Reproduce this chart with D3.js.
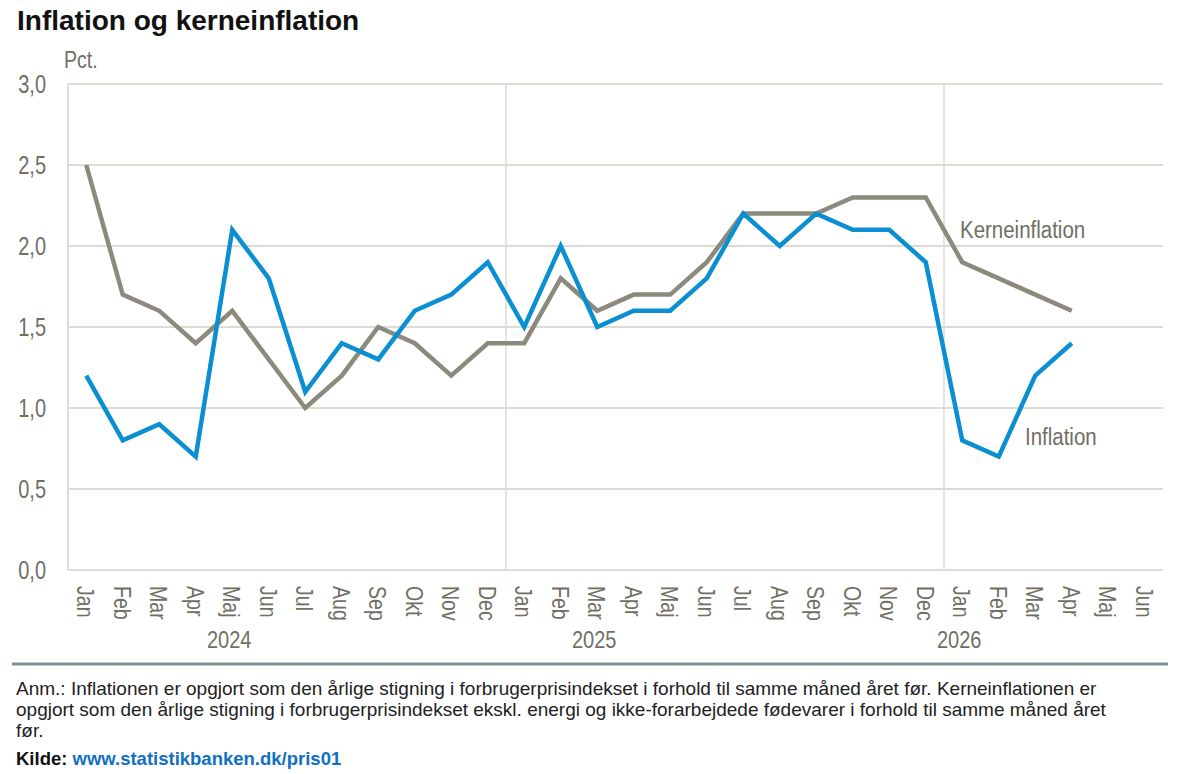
<!DOCTYPE html>
<html><head><meta charset="utf-8">
<script src="https://cdn.jsdelivr.net/npm/d3@7"></script>
<style>
html,body{margin:0;padding:0;background:#fff;}
svg{display:block;}
</style></head>
<body>
<svg id="c" width="1203" height="774"></svg>
<script>
const months = ["Jan","Feb","Mar","Apr","Maj","Jun","Jul","Aug","Sep","Okt","Nov","Dec",
                "Jan","Feb","Mar","Apr","Maj","Jun","Jul","Aug","Sep","Okt","Nov","Dec",
                "Jan","Feb","Mar","Apr","Maj","Jun"];
const years = ["2024","2025","2026"];
const yearLabelMonth = [4, 14, 24];
const yearStartMonth = [12, 24];
const inflation = [1.2,0.8,0.9,0.7,2.1,1.8,1.1,1.4,1.3,1.6,1.7,1.9,
                   1.5,2.0,1.5,1.6,1.6,1.8,2.2,2.0,2.2,2.1,2.1,1.9,
                   0.8,0.7,1.2,1.4];
const kerneinflation = [2.5,1.7,1.6,1.4,1.6,1.3,1.0,1.2,1.5,1.4,1.2,1.4,
                        1.4,1.8,1.6,1.7,1.7,1.9,2.2,2.2,2.2,2.3,2.3,2.3,
                        1.9,1.8,1.7,1.6];
const yTicks = [0,0.5,1,1.5,2,2.5,3];
const seriesNames = ["Inflation","Kerneinflation"];
const title = "Inflation og kerneinflation";
const unit = "Pct.";
const noteLines = [
 "Anm.: Inflationen er opgjort som den årlige stigning i forbrugerprisindekset i forhold til samme måned året før. Kerneinflationen er",
 "opgjort som den årlige stigning i forbrugerprisindekset ekskl. energi og ikke-forarbejdede fødevarer i forhold til samme måned året",
 "før."
];
const sourceLabel = "Kilde:";
const sourceLink = "www.statistikbanken.dk/pris01";

const svg = d3.select("#c");
const L = 68, R = 1163, T = 84, B = 570;
const x = d3.scaleBand().domain(d3.range(months.length)).range([L, R]).padding(0);
const y = d3.scaleLinear().domain([0, 3]).range([B, T]);
const cx = i => x(i) + x.bandwidth() / 2;

const FONT = "'Liberation Sans', Arial, sans-serif";
const tickCol = "#6f6f64";
const gridCol = "#dcdcd3";

// title
svg.append("text").attr("x", 17).attr("y", 30).text(title)
  .attr("font-family", FONT).attr("font-weight", "bold").attr("font-size", 28).attr("fill", "#111");

// gridlines
svg.append("g").selectAll("line").data(yTicks).join("line")
  .attr("x1", L).attr("x2", R).attr("y1", d => y(d)).attr("y2", d => y(d))
  .attr("stroke", gridCol).attr("stroke-width", 2);
// left axis line
svg.append("line").attr("x1", L).attr("x2", L).attr("y1", T).attr("y2", B)
  .attr("stroke", gridCol).attr("stroke-width", 2);
// year separators
svg.append("g").selectAll("line").data(yearStartMonth).join("line")
  .attr("x1", d => x(d)).attr("x2", d => x(d)).attr("y1", T).attr("y2", B)
  .attr("stroke", gridCol).attr("stroke-width", 1.5);

function ntext(g, xx, yy, s, size, anchor, sx) {
  return g.append("text").attr("transform", `translate(${xx},${yy}) scale(${sx},1)`)
    .attr("text-anchor", anchor).attr("font-family", FONT).attr("font-size", size)
    .attr("fill", tickCol).text(s);
}

// y tick labels
const yl = svg.append("g");
yTicks.forEach(t => ntext(yl, 46, y(t) + 9, d3.format(".1f")(t).replace(".", ","), 25, "end", 0.8));
ntext(svg, 64, 68, unit, 23, "start", 0.85);

// month labels rotated
const ml = svg.append("g");
months.forEach((m, i) => {
  ml.append("text")
    .attr("transform", `translate(${cx(i) - 9},${586}) rotate(90) scale(0.85,1)`)
    .attr("text-anchor", "start").attr("font-family", FONT).attr("font-size", 23)
    .attr("fill", tickCol).text(m);
});
// year labels
years.forEach((yr, k) => ntext(svg, cx(yearLabelMonth[k]) - 3, 648, yr, 23, "middle", 0.87));

// lines
const line = d3.line().x((d, i) => cx(i)).y(d => y(d));
svg.append("path").datum(kerneinflation).attr("d", line).attr("fill", "none")
  .attr("stroke", "#8c8a7c").attr("stroke-width", 4.5).attr("stroke-linejoin", "miter");
svg.append("path").datum(inflation).attr("d", line).attr("fill", "none")
  .attr("stroke", "#0a90d2").attr("stroke-width", 4.5).attr("stroke-linejoin", "miter");

// series labels
ntext(svg, 960, 238, seriesNames[1], 23, "start", 0.89);
ntext(svg, 1025, 445, seriesNames[0], 23, "start", 0.89);

// separator
svg.append("line").attr("x1", 12).attr("x2", 1168).attr("y1", 664).attr("y2", 664)
  .attr("stroke", "#7f9096").attr("stroke-width", 3);

// notes
const nt = svg.append("g");
noteLines.forEach((s, i) => nt.append("text").attr("x", 16).attr("y", 695 + i * 21)
  .attr("font-family", FONT).attr("font-size", 19).attr("fill", "#222").text(s));
const src = svg.append("text").attr("x", 16).attr("y", 765)
  .attr("font-family", FONT).attr("font-size", 18.5).attr("font-weight", "bold");
src.append("tspan").attr("fill", "#111").text(sourceLabel + " ");
src.append("tspan").attr("fill", "#1170c4").text(sourceLink);
</script>
</body></html>
